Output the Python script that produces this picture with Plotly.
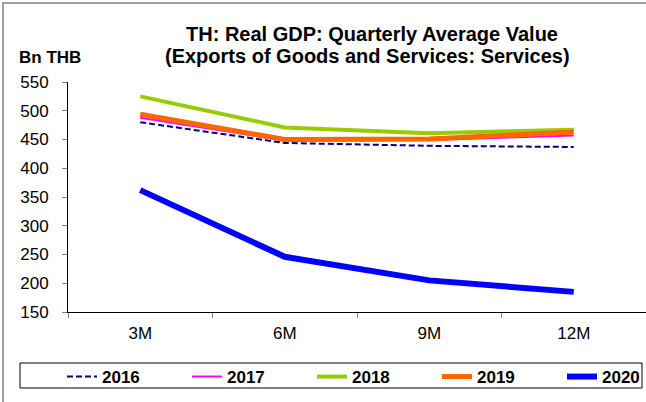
import plotly.graph_objects as go

periods = ["3M", "6M", "9M", "12M"]
years = ["2016", "2017", "2018", "2019", "2020"]
gdp_2016 = [480, 444, 439, 437]
gdp_2017 = [488, 448, 449, 457]
gdp_2018 = [525, 471, 461, 467]
gdp_2019 = [494, 450, 451, 463]
gdp_2020 = [362, 246, 205, 185]

series = [gdp_2016, gdp_2017, gdp_2018, gdp_2019, gdp_2020]
styles = [
    dict(color="#000080", width=2, dash="6px,3px"),
    dict(color="#FF00FF", width=2),
    dict(color="#99CC00", width=4),
    dict(color="#FF6600", width=5),
    dict(color="#0000FF", width=6),
]

W, H = 646, 402
ML, MR, MT, MB = 68, 0, 82, 90
pw, ph = W - ML - MR, H - MT - MB


def px_x(x):
    return (x - ML) / pw


def px_y(y):
    return (MT + ph - y) / ph


fig = go.Figure()
for name, vals, ln in zip(years, series, styles):
    fig.add_trace(go.Scatter(x=periods, y=vals, name=name, mode="lines", line=ln))

font = "Arial, Liberation Sans, sans-serif"

title_lines = [
    ("TH: Real GDP: Quarterly Average Value", 372, 34),
    ("(Exports of Goods and Services: Services)", 367, 56),
]
annotations = [
    dict(
        text="<b>%s</b>" % t,
        xref="paper",
        yref="paper",
        x=px_x(cx),
        y=px_y(cy),
        xanchor="center",
        yanchor="middle",
        showarrow=False,
        font=dict(size=20, family=font, color="black"),
    )
    for t, cx, cy in title_lines
]
annotations.append(
    dict(
        text="<b>Bn THB</b>",
        xref="paper",
        yref="paper",
        x=px_x(17),
        y=px_y(58),
        xanchor="left",
        yanchor="middle",
        showarrow=False,
        font=dict(size=17, family=font, color="black"),
    )
)

fig.update_layout(
    width=W,
    height=H,
    margin=dict(l=ML, r=MR, t=MT, b=MB, autoexpand=False),
    plot_bgcolor="white",
    paper_bgcolor="white",
    font=dict(family=font, color="black", size=17),
    xaxis=dict(
        type="category",
        range=[-0.5, 3.5],
        showline=True,
        linecolor="black",
        linewidth=1,
        ticks="outside",
        tickson="boundaries",
        ticklen=5,
        tickcolor="#808080",
        showgrid=False,
        ticklabelstandoff=6,
        tickfont=dict(size=17),
    ),
    yaxis=dict(
        range=[150, 550],
        dtick=50,
        showline=True,
        linecolor="black",
        linewidth=1,
        ticks="outside",
        ticklen=5,
        tickcolor="#808080",
        showgrid=False,
        zeroline=False,
        ticklabelstandoff=10,
        tickfont=dict(size=17),
    ),
    showlegend=True,
    legend=dict(
        orientation="h",
        x=px_x(62),
        xanchor="left",
        y=px_y(359),
        yanchor="top",
        borderwidth=0,
        bgcolor="rgba(0,0,0,0)",
        entrywidth=80,
        font=dict(size=17, family=font, color="black", weight="bold"),
    ),
    annotations=annotations,
    shapes=[
        dict(
            type="rect",
            xref="paper",
            yref="paper",
            x0=px_x(3),
            x1=px_x(W + 20),
            y0=px_y(H + 20),
            y1=px_y(3),
            line=dict(color="#A0A0A0", width=2),
            layer="below",
        ),
        dict(
            type="rect",
            xref="paper",
            yref="paper",
            x0=px_x(20),
            x1=px_x(642),
            y0=px_y(388),
            y1=px_y(363),
            line=dict(color="black", width=1),
            layer="below",
        ),
    ],
)

# page has a default 8px body margin; drop it so the figure sits at 0,0
fig.write_html(
    "out.html",
    config={"displayModeBar": False},
    post_script="document.body.style.margin='0';document.body.style.overflow='hidden';",
)
